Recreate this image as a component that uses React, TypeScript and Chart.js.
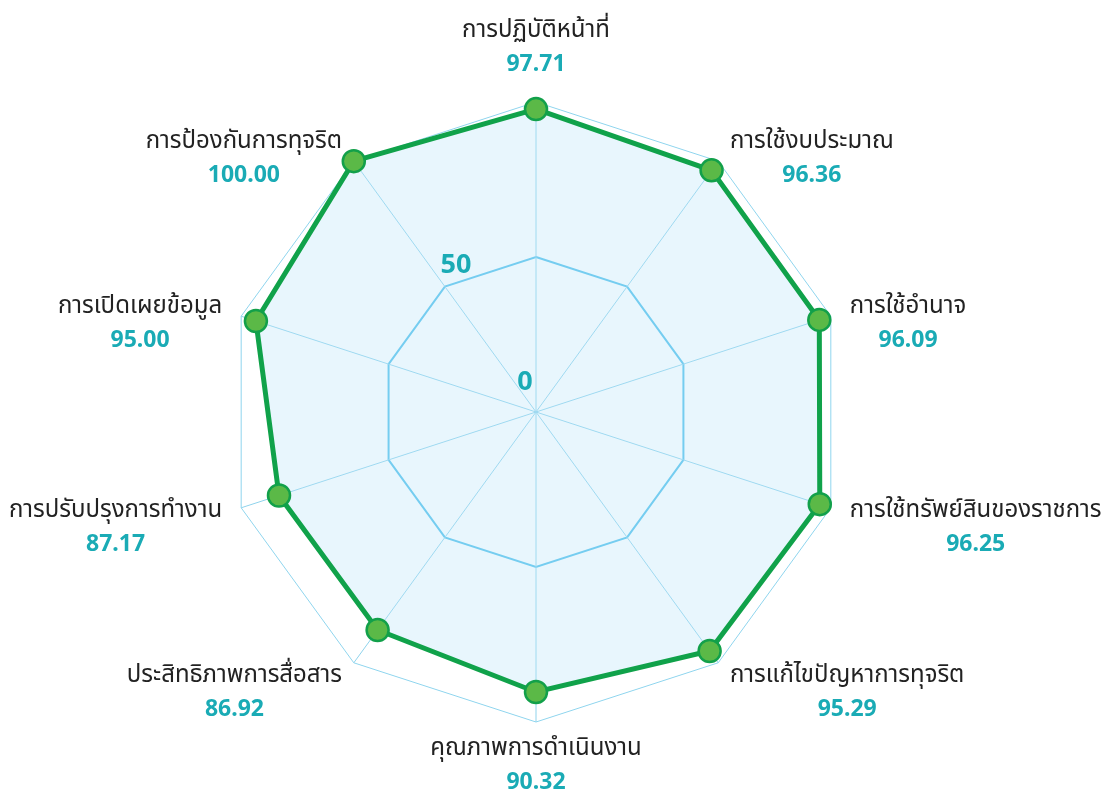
import React, { useEffect, useRef } from "react";
import { Chart, registerables } from "chart.js";

Chart.register(...registerables);

const categories: string[] = [
  "การปฏิบัติหน้าที่",
  "การใช้งบประมาณ",
  "การใช้อำนาจ",
  "การใช้ทรัพย์สินของราชการ",
  "การแก้ไขปัญหาการทุจริต",
  "คุณภาพการดำเนินงาน",
  "ประสิทธิภาพการสื่อสาร",
  "การปรับปรุงการทำงาน",
  "การเปิดเผยข้อมูล",
  "การป้องกันการทุจริต",
];

const scores: number[] = [97.71, 96.36, 96.09, 96.25, 95.29, 90.32, 86.92, 87.17, 95.0, 100.0];

const tickValues: number[] = [0, 50];

const NAME_FONT = '24px "Noto Sans Thai", "Noto Sans", sans-serif';
const VALUE_FONT = 'bold 23px "Noto Sans", "Open Sans", sans-serif';
const TICK_FONT = 'bold 27px "Noto Sans", "Open Sans", sans-serif';
const NAME_COLOR = "#222222";
const TEAL = "#1aabb5";

const labelPlugin = {
  id: "customLabels",
  afterDraw(chart: any) {
    const scale = chart.scales.r;
    const ctx = chart.ctx;
    const cx = scale.xCenter;
    const cy = scale.yCenter;
    const r = scale.drawingArea;
    ctx.save();
    ctx.font = TICK_FONT;
    ctx.fillStyle = TEAL;
    ctx.textAlign = "center";
    ctx.textBaseline = "middle";
    const ta = (-120.5 * Math.PI) / 180;
    tickValues.forEach((v) => {
      const d = scale.getDistanceFromCenterForValue(v) * 0.877;
      ctx.fillText(String(v), cx - 11 + d * Math.cos(ta), cy - 30 + d * Math.sin(ta));
    });
    categories.forEach((name, i) => {
      const ang = scale.getIndexAngle(i) - Math.PI / 2;
      const cos = Math.cos(ang);
      const sin = Math.sin(ang);
      const value = scores[i].toFixed(2);
      ctx.font = NAME_FONT;
      const nw = ctx.measureText(name).width;
      ctx.font = VALUE_FONT;
      const vw = ctx.measureText(value).width;
      const bw = Math.max(nw, vw);
      let bx: number;
      let nameY: number;
      if (Math.abs(cos) < 0.05) {
        bx = cx;
        if (sin < 0) nameY = cy - r - 70;
        else nameY = cy + r + 28;
      } else {
        const R = r + 20;
        const ax = cx + R * cos;
        nameY = cy + R * sin - 2;
        bx = cos > 0 ? ax + bw / 2 : ax - bw / 2;
      }
      ctx.textAlign = "center";
      ctx.textBaseline = "middle";
      ctx.font = NAME_FONT;
      ctx.fillStyle = NAME_COLOR;
      ctx.fillText(name, bx, nameY);
      ctx.font = VALUE_FONT;
      ctx.fillStyle = TEAL;
      ctx.fillText(value, bx, nameY + 32);
    });
    ctx.restore();
  },
};

export default function App() {
  const ref = useRef<HTMLCanvasElement | null>(null);
  useEffect(() => {
    if (!ref.current) return;
    const chart = new Chart(ref.current, {
      type: "radar",
      data: {
        labels: categories,
        datasets: [
          {
            data: scores,
            borderColor: "#10a24a",
            borderWidth: 5,
            backgroundColor: "rgba(190, 230, 248, 0.35)",
            fill: true,
            pointRadius: 11,
            pointHoverRadius: 11,
            pointBackgroundColor: "#5bb947",
            pointBorderColor: "#12a04a",
            pointBorderWidth: 2.5,
          },
        ],
      },
      options: {
        responsive: false,
        animation: false,
        layout: { padding: { top: 102, bottom: 70, left: 200, right: 243 } },
        plugins: { legend: { display: false }, tooltip: { enabled: false } },
        scales: {
          r: {
            min: 0,
            max: 100,
            ticks: { stepSize: 50, display: false },
            pointLabels: { display: false },
            angleLines: { color: "#8fd3ec", lineWidth: 1 },
            grid: {
              color: (c: any) => (c.tick && c.tick.value === 50 ? "#4fc0ec" : "#8fd5ee"),
              lineWidth: (c: any) => (c.tick && c.tick.value === 50 ? 2 : 1),
            },
          },
        },
      },
      plugins: [labelPlugin],
    });
    return () => chart.destroy();
  }, []);
  return (
    <div style={{ position: "absolute", left: 0, top: 0, width: 1115, height: 792, background: "#fff" }}>
      <canvas ref={ref} width={1115} height={792} style={{ display: "block" }} />
    </div>
  );
}
